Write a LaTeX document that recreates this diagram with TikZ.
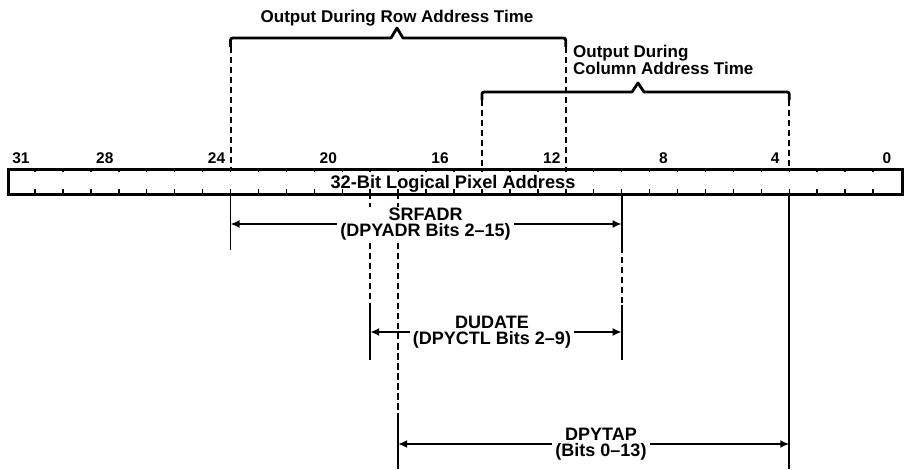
\documentclass[tikz,border=0pt]{standalone}
\usepackage{fontspec}
\setmainfont{Liberation Sans}
\usetikzlibrary{arrows.meta,calc}
\begin{document}
\begin{tikzpicture}[x=1pt,y=-1pt,
  regbox/.style={draw,line width=2.8pt,minimum width=894pt,minimum height=25.5pt,inner sep=0pt,anchor=north west},
  tickline/.style={line width=1.5pt},
  guide/.style={line width=2pt,dash pattern=on 6.5pt off 3.5pt},
  extline/.style={line width=1.9pt},
  dimline/.style={line width=2pt,{Latex[length=9pt,width=8pt]}-{Latex[length=9pt,width=8pt]}},
  bracket/.style={line width=2.8pt,line join=round},
  lbl/.style={fill=white,align=center,inner xsep=3pt,inner ysep=0.5pt,font=\bfseries\fontsize{18}{16.5}\selectfont},
  ttl/.style={font=\bfseries\fontsize{17}{15.5}\selectfont},
  num/.style={font=\bfseries\fontsize{15.5}{15.5}\selectfont,anchor=base,inner sep=0pt}]
\useasboundingbox (0,0) rectangle (905,470);
\def\bw{27.9375}
% register box
\node[regbox] (reg) at (7,168) {};
\node[font=\bfseries\fontsize{18.2}{18}\selectfont,anchor=base,inner sep=0pt] (regtxt) at (453,188.5) {32-Bit Logical Pixel Address};
% ticks
\foreach \i in {1,...,31}{
  \draw[tickline] ({7+\i*\bw},168) -- ({7+\i*\bw},172.5);
  \draw[tickline] ({7+\i*\bw},193.5) -- ({7+\i*\bw},189);
}
% bit numbers
\foreach \k/\n in {31/b31,28/b28,24/b24,20/b20,16/b16,12/b12,8/b8,4/b4,0/b0}{
  \node[num] (\n) at ({7+(31-\k+0.5)*\bw},164) {\k};
}
% boundary coordinates
\coordinate (x8) at ({7+8*\bw},0);
\coordinate (x13) at ({7+13*\bw},0);
\coordinate (x14) at ({7+14*\bw},0);
\coordinate (x17) at ({7+17*\bw},0);
\coordinate (x20) at ({7+20*\bw},0);
\coordinate (x22) at ({7+22*\bw},0);
\coordinate (x28) at ({7+28*\bw},0);
% row bracket
\coordinate (rowL) at (x8 |- 0,47);
\coordinate (rowR) at (x20 |- 0,47);
\coordinate (rowP) at (397,28);
\draw[bracket] (rowL) -- ($(rowL)+(0,-4)$) .. controls ($(rowL)+(0,-9)$) .. ($(rowL)+(5,-9)$) -- (391,38) -- (rowP) -- (403,38) -- ($(rowR)+(-5,-9)$) .. controls ($(rowR)+(0,-9)$) .. ($(rowR)+(0,-4)$) -- (rowR);
\node[ttl,anchor=base,inner sep=0pt] (rowttl) at (397,23) {Output During Row Address Time};
% column bracket
\coordinate (colL) at (x17 |- 0,100);
\coordinate (colR) at (x28 |- 0,100);
\coordinate (colP) at (638,83);
\draw[bracket] (colL) -- ($(colL)+(0,-4)$) .. controls ($(colL)+(0,-8)$) .. ($(colL)+(5,-8)$) -- (632,92) -- (colP) -- (644,92) -- ($(colR)+(-5,-8)$) .. controls ($(colR)+(0,-8)$) .. ($(colR)+(0,-4)$) -- (colR);
\node[ttl,anchor=north west,align=left,inner sep=0pt] (colttl) at (573,45) {Output During\\Column Address Time};
% dashed guides above the register
\draw[guide] (rowL) -- (rowL |- reg.north);
\draw[guide] (rowR) -- (rowR |- reg.north);
\draw[guide] (colL) -- (colL |- reg.north);
\draw[guide] (colR) -- (colR |- reg.north);
% lines below the register
\coordinate (s8a) at (x8 |- 0,193);   \coordinate (s8b) at (x8 |- 0,250);
\coordinate (s22a) at (x22 |- 0,193); \coordinate (s22b) at (x22 |- 0,247);
\coordinate (s22c) at (x22 |- 0,305); \coordinate (s22d) at (x22 |- 0,360);
\coordinate (s13a) at (x13 |- 0,193); \coordinate (s13c) at (x13 |- 0,305); \coordinate (s13d) at (x13 |- 0,360);
\coordinate (s14a) at (x14 |- 0,193); \coordinate (s14c) at (x14 |- 0,418); \coordinate (s14d) at (x14 |- 0,469);
\coordinate (s28a) at (x28 |- 0,193); \coordinate (s28d) at (x28 |- 0,469);
\draw[extline] (s8a) -- (s8b);
\draw[extline] (s22a) -- (s22b);
\draw[guide] (s22b) -- (s22c);
\draw[extline] (s22c) -- (s22d);
\draw[guide] (s13a) -- (s13c);
\draw[extline] (s13c) -- (s13d);
\draw[guide] (s14a) -- (s14c);
\draw[extline] (s14c) -- (s14d);
\draw[extline] (s28a) -- (s28d);
% dimension arrows
\coordinate (srfL) at (x8 |- 0,224);  \coordinate (srfR) at (x22 |- 0,224);
\coordinate (dudL) at (x13 |- 0,332); \coordinate (dudR) at (x22 |- 0,332);
\coordinate (dpyL) at (x14 |- 0,444); \coordinate (dpyR) at (x28 |- 0,444);
\draw[dimline] (srfL) -- (srfR);
\draw[dimline] (dudL) -- (dudR);
\draw[dimline] (dpyL) -- (dpyR);
\node[lbl] (srf) at (425.5,224) {SRFADR\\(DPYADR Bits 2--15)};
\node[lbl] (dud) at (492,332) {DUDATE\\(DPYCTL Bits 2--9)};
\node[lbl] (dpy) at (601,444) {DPYTAP\\(Bits 0--13)};
\end{tikzpicture}
\end{document}
